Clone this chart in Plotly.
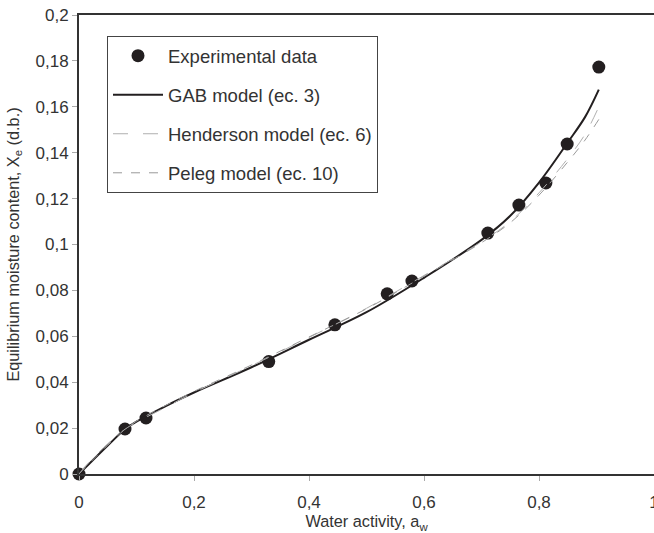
import plotly.graph_objects as go

# Experimental data
exp_aw = [0.0, 0.080, 0.1165, 0.330, 0.445, 0.536, 0.579, 0.711, 0.765, 0.812, 0.849, 0.904]
exp_x = [0.0, 0.0196, 0.0244, 0.049, 0.065, 0.0785, 0.0841, 0.105, 0.1172, 0.1268, 0.1438, 0.1773]

# Model curves
model_aw = [0.0, 0.02, 0.05, 0.08, 0.10, 0.15, 0.20, 0.30, 0.40, 0.50, 0.60, 0.70, 0.75, 0.80, 0.85, 0.88, 0.904]
gab_x = [0.0, 0.005, 0.0124, 0.0195, 0.0228, 0.0295, 0.0355, 0.0465, 0.0585, 0.0705, 0.0855, 0.102, 0.1125, 0.127, 0.1445, 0.1555, 0.1675]
henderson_x = [0.0, 0.0058, 0.0132, 0.0195, 0.0225, 0.029, 0.0355, 0.0472, 0.0595, 0.0722, 0.0865, 0.1012, 0.110, 0.1225, 0.1375, 0.148, 0.160]
peleg_x = [0.0, 0.0052, 0.0126, 0.0195, 0.023, 0.0298, 0.036, 0.0475, 0.0597, 0.072, 0.0862, 0.1008, 0.1095, 0.1215, 0.136, 0.1455, 0.1545]

x_tickvals = [0, 0.2, 0.4, 0.6, 0.8, 1.0]
x_ticktext = ["0", "0,2", "0,4", "0,6", "0,8", "1"]
y_tickvals = [0, 0.02, 0.04, 0.06, 0.08, 0.10, 0.12, 0.14, 0.16, 0.18, 0.20]
y_ticktext = ["0", "0,02", "0,04", "0,06", "0,08", "0,1", "0,12", "0,14", "0,16", "0,18", "0,2"]

fig = go.Figure()
fig.add_trace(go.Scatter(x=exp_aw, y=exp_x, mode="markers", name="Experimental data",
                         legendgroup="a",
                         marker=dict(size=13, color="#231f20"), cliponaxis=False))
fig.add_trace(go.Scatter(x=model_aw, y=gab_x, mode="lines", name="GAB model (ec. 3)",
                         legendgroup="b", line=dict(color="#231f20", width=2, shape="spline")))
fig.add_trace(go.Scatter(x=model_aw, y=henderson_x, mode="lines", name="Henderson model (ec. 6)",
                         legendgroup="c", line=dict(color="#b0b0b0", width=1, dash="longdash", shape="spline")))
fig.add_trace(go.Scatter(x=model_aw, y=peleg_x, mode="lines", name="Peleg model (ec. 10)",
                         legendgroup="d", line=dict(color="#9a9a9a", width=1, dash="dash", shape="spline")))

font = "Liberation Sans, Arial, sans-serif"
fig.update_layout(
    width=654, height=533,
    margin=dict(l=79, r=0, t=15, b=59, autoexpand=False),
    plot_bgcolor="white", paper_bgcolor="white",
    font=dict(family=font, size=17, color="#333333"),
    showlegend=True,
    legend=dict(x=0.0487, y=0.954, xanchor="left", yanchor="top",
                bordercolor="#444444", borderwidth=1, bgcolor="white",
                font=dict(size=18.5, color="#333333"), tracegroupgap=12,
                itemwidth=50),
    xaxis=dict(range=[0, 1], tickvals=x_tickvals, ticktext=x_ticktext, automargin=False,
               showgrid=False, zeroline=False, showline=True, linecolor="#333333", linewidth=2,
               mirror=True, ticks="outside", ticklen=5, tickcolor="#aaaaaa",
               tickfont=dict(size=17), ticklabelstandoff=7, ticklabeloverflow="allow",
               title=dict(text="Water activity, a<sub>w</sub>", standoff=4,
                          font=dict(size=16.3, color="#333333"))),
    yaxis=dict(range=[0, 0.2], tickvals=y_tickvals, ticktext=y_ticktext, automargin=False,
               showgrid=False, zeroline=False, showline=True, linecolor="#333333", linewidth=2,
               ticks="outside", ticklen=5, tickcolor="#aaaaaa",
               tickfont=dict(size=17), ticklabeloverflow="allow",
               title=dict(text="Equilibrium moisture content, X<sub>e</sub> (d.b.)", standoff=12,
                          font=dict(size=16.3, color="#333333"))),
)

fig.write_html("out.html", config={"displayModeBar": False},
               post_script="document.body.style.margin='0';document.body.style.overflow='hidden';")
